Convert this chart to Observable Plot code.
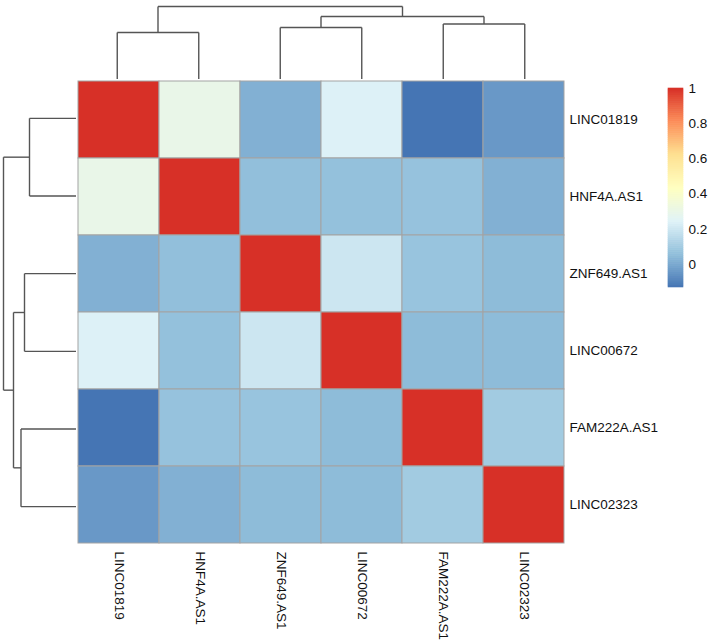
<!DOCTYPE html>
<html><head><meta charset="utf-8">
<script src="https://cdn.jsdelivr.net/npm/d3@7"></script>
<script src="https://cdn.jsdelivr.net/npm/@observablehq/plot@0.6"></script>
<style>
html,body{margin:0;padding:0;background:#fff;}
#chart{position:relative;width:709px;height:640px;overflow:hidden;background:#fff;}
#chart svg{position:absolute;left:0;top:0;background:transparent;max-width:none;}
</style></head><body><div id="chart"></div>
<script>
// Gene order (rows and columns share it)
const genes = ["LINC01819","HNF4A.AS1","ZNF649.AS1","LINC00672","FAM222A.AS1","LINC02323"];
// Correlation values, one row per gene
const rowLINC01819  = [1.00, 0.30, 0.02, 0.24, -0.13, -0.04];
const rowHNF4A_AS1  = [0.30, 1.00, 0.06, 0.065, 0.07, 0.02];
const rowZNF649_AS1 = [0.02, 0.06, 1.00, 0.20, 0.075, 0.05];
const rowLINC00672  = [0.24, 0.065, 0.20, 1.00, 0.05, 0.05];
const rowFAM222A_AS1= [-0.13, 0.07, 0.075, 0.05, 1.00, 0.10];
const rowLINC02323  = [-0.04, 0.02, 0.05, 0.05, 0.10, 1.00];
const corr = [rowLINC01819,rowHNF4A_AS1,rowZNF649_AS1,rowLINC00672,rowFAM222A_AS1,rowLINC02323];
// Hierarchical clustering merges (heights in tree units)
const mergeIds     = ["a","b","c","d","e"];
const mergeLeft    = ["LINC01819","ZNF649.AS1","FAM222A.AS1","b","a"];
const mergeRight   = ["HNF4A.AS1","LINC00672","LINC02323","c","d"];
const mergeHeights = [4.7, 5.2, 5.55, 6.3, 7.3];
// Legend ticks and palette
const legendTicks = [0, 0.2, 0.4, 0.6, 0.8, 1];
const palette = ["#4575b4","#91bfdb","#e0f3f8","#ffffbf","#fee090","#fc8d59","#d73027"];

const cells = genes.flatMap((r,i)=>genes.map((c,j)=>({row:r,col:c,value:corr[i][j]})));
const [vmin, vmax] = d3.extent(cells, d=>d.value);
const colorDomain = palette.map((_,k)=> vmin + k*(vmax-vmin)/(palette.length-1));
const colorOpt = {type:"linear", domain: colorDomain, range: palette, interpolate:"rgb"};

// dendrogram segments
const pos = new Map(genes.map((g,i)=>[g,{p:i+0.5,h:0}]));
const segs = [];
mergeIds.forEach((id,k)=>{
  const a = pos.get(mergeLeft[k]), b = pos.get(mergeRight[k]), h = mergeHeights[k];
  segs.push({p1:a.p,h1:a.h,p2:a.p,h2:h});
  segs.push({p1:b.p,h1:b.h,p2:b.p,h2:h});
  segs.push({p1:a.p,h1:h,p2:b.p,h2:h});
  pos.set(id,{p:(a.p+b.p)/2,h});
});
const hmax = d3.max(mergeHeights);

const font = {fontFamily:"'Liberation Sans', Arial, Helvetica, sans-serif", fontSize:"13.5px", color:"#111"};
const chart = document.getElementById("chart");

// Heatmap
chart.append(Plot.plot({
  width:709, height:640, marginLeft:76, marginRight:144, marginTop:79, marginBottom:95,
  style: font,
  x:{domain:genes, padding:0, axis:"bottom", tickSize:0, tickPadding:6, tickRotate:90, label:null},
  y:{domain:genes, padding:0, axis:"right", tickSize:0, tickPadding:4, label:null},
  color: colorOpt,
  marks:[Plot.cell(cells,{x:"col", y:"row", fill:"value", stroke:"#a3a3a3", strokeWidth:1, inset:0})]
}));

// Top dendrogram
chart.append(Plot.plot({
  width:709, height:79, marginLeft:76, marginRight:144, marginTop:6, marginBottom:0,
  x:{domain:[0,genes.length], axis:null}, y:{domain:[0,hmax], axis:null},
  marks:[Plot.link(segs,{x1:"p1", y1:"h1", x2:"p2", y2:"h2", stroke:"#555", strokeWidth:1.4})]
}));

// Left dendrogram
chart.append(Plot.plot({
  width:76, height:640, marginLeft:3, marginRight:0, marginTop:79, marginBottom:95,
  x:{domain:[hmax,0], axis:null}, y:{domain:[0,genes.length], reverse:true, axis:null},
  marks:[Plot.link(segs,{x1:"h1", y1:"p1", x2:"h2", y2:"p2", stroke:"#555", strokeWidth:1.4})]
}));

// Colour legend
const nSteps = 100;
const steps = d3.range(nSteps).map(k=>({
  y1: vmin + k*(vmax-vmin)/nSteps,
  y2: vmin + (k+1)*(vmax-vmin)/nSteps,
  v:  vmin + (k+0.5)*(vmax-vmin)/nSteps
}));
chart.append(Plot.plot({
  width:709, height:640, marginLeft:668, marginRight:26, marginTop:88, marginBottom:353,
  style: font,
  x:{domain:[0,1], axis:null},
  y:{domain:[vmin,vmax], axis:"right", ticks:legendTicks, tickSize:0, tickPadding:5, tickFormat:d=>String(d), label:null},
  color: colorOpt,
  marks:[Plot.rect(steps,{x1:0, x2:1, y1:"y1", y2:"y2", fill:"v", stroke:"v", strokeWidth:0.6})]
}));
</script></body></html>
